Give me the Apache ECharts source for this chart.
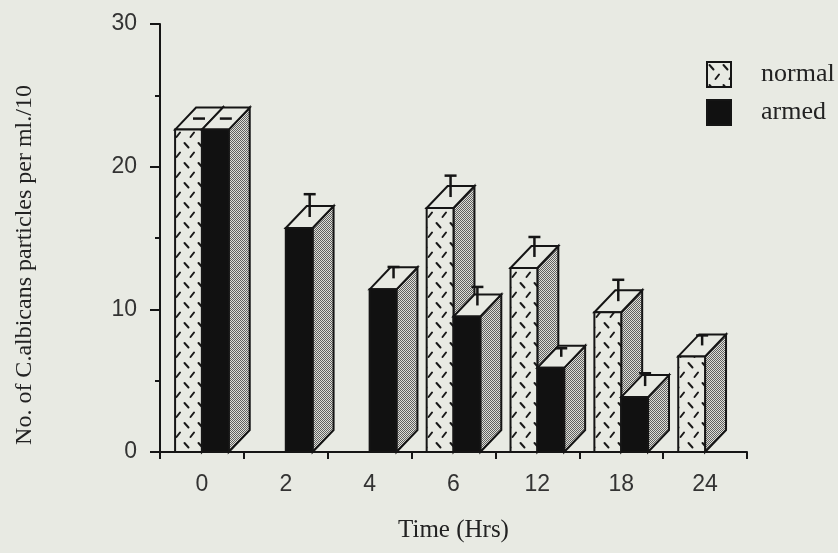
<!DOCTYPE html>
<html>
<head>
<meta charset="utf-8">
<script src="https://cdn.jsdelivr.net/npm/echarts@6/dist/echarts.min.js"></script>
<style>
html,body{margin:0;padding:0;background:#e8eae3;}
#chart{width:838px;height:553px;}
</style>
</head>
<body>
<div id="chart"></div>
<script>
// ---- data ----
const categories = ['0', '2', '4', '6', '12', '18', '24'];
const normalValues = [22.6, null, null, 17.1, 12.9, 9.8, 6.7];
const normalErrors = [0, null, null, 1.5, 1.4, 1.5, 0.7];
const armedValues = [22.6, 15.7, 11.4, 9.5, 5.9, 3.85, null];
const armedErrors = [0, 1.6, 0.8, 1.3, 0.6, 0.9, null];
const yTicks = [0, 10, 20, 30];

const BG = '#e8eae3';
const INK = '#151515';

// ---- fill patterns ----
function makeNormalPattern() {
  const c = document.createElement('canvas');
  c.width = 14; c.height = 20;
  const g = c.getContext('2d');
  g.fillStyle = BG; g.fillRect(0, 0, 14, 20);
  g.strokeStyle = '#1a1a1a'; g.lineWidth = 2; g.lineCap = 'round';
  g.beginPath(); g.moveTo(2.5, 3); g.lineTo(6.5, 7.5); g.stroke();
  g.beginPath(); g.moveTo(8.5, 17); g.lineTo(12, 12.5); g.stroke();
  return c;
}
function makeStipple() {
  const c = document.createElement('canvas');
  c.width = 2; c.height = 2;
  const g = c.getContext('2d');
  g.fillStyle = '#dedfd8'; g.fillRect(0, 0, 2, 2);
  g.fillStyle = '#606060'; g.fillRect(0, 0, 1, 1); g.fillRect(1, 1, 1, 1);
  return c;
}
const normalFill = { image: makeNormalPattern(), repeat: 'repeat' };
const sideFill = { image: makeStipple(), repeat: 'repeat' };

function toData(vals, errs) {
  return vals.map((v, i) => v == null ? [i, NaN, NaN] : [i, v, errs[i]]);
}

function barRenderer(isLeft, frontFill) {
  return function (params, api) {
    const i = api.value(0);
    const v = api.value(1);
    if (isNaN(v)) return;
    const err = api.value(2);
    const base = api.coord([i, 0]);
    const top = api.coord([i, v]);
    const cw = api.size([1, 0])[0];
    const bw = cw * 0.32;
    const dx = cw * 0.25;
    const dy = 22;
    const x0 = isLeft ? base[0] - bw : base[0];
    const x1 = x0 + bw;
    const yb = base[1];
    const yt = top[1];
    const stroke = { stroke: INK, lineWidth: 2, lineJoin: 'miter' };
    const children = [
      { type: 'polygon', shape: { points: [[x1, yb], [x1 + dx, yb - dy], [x1 + dx, yt - dy], [x1, yt]] },
        style: Object.assign({ fill: sideFill }, stroke) },
      { type: 'polygon', shape: { points: [[x0, yt], [x0 + dx, yt - dy], [x1 + dx, yt - dy], [x1, yt]] },
        style: Object.assign({ fill: BG }, stroke) },
      { type: 'rect', shape: { x: x0, y: yt, width: bw, height: yb - yt },
        style: Object.assign({ fill: frontFill }, stroke) }
    ];
    if (!isNaN(err)) {
      const cx = (x0 + x1) / 2 + dx / 2;
      const cy = yt - dy / 2;
      const ey = api.coord([i, v + err])[1] - dy / 2;
      children.push({ type: 'line', shape: { x1: cx, y1: cy, x2: cx, y2: ey },
        style: { stroke: INK, lineWidth: 2.5 } });
      children.push({ type: 'line', shape: { x1: cx - 6, y1: ey, x2: cx + 6, y2: ey },
        style: { stroke: INK, lineWidth: 2.5 } });
    }
    return { type: 'group', children: children };
  };
}

const chart = echarts.init(document.getElementById('chart'), null, { renderer: 'canvas' });
chart.setOption({
  backgroundColor: BG,
  animation: false,
  grid: { left: 160, right: 91, top: 24, bottom: 101, containLabel: false },
  legend: {
    orient: 'vertical', left: 701, top: 56, itemWidth: 24, itemHeight: 25, itemGap: 11,
    icon: 'rect',
    textStyle: { fontFamily: 'Liberation Serif', fontSize: 26, color: '#222', padding: [0, 0, 0, 25] },
    data: [
      { name: 'normal', itemStyle: { color: normalFill, borderColor: INK, borderWidth: 2 } },
      { name: 'armed', itemStyle: { color: '#111', borderColor: INK, borderWidth: 2 } }
    ]
  },
  xAxis: {
    type: 'category', data: categories, boundaryGap: true,
    name: 'Time (Hrs)', nameLocation: 'middle', nameGap: 66,
    nameTextStyle: { fontFamily: 'Liberation Serif', fontSize: 25, color: '#222' },
    axisLine: { lineStyle: { color: INK, width: 2 } },
    axisTick: { show: true, length: 7, alignWithLabel: false, lineStyle: { color: INK, width: 2 } },
    axisLabel: { margin: 21, fontFamily: 'Liberation Sans', fontSize: 23, color: '#333' },
    splitLine: { show: false }
  },
  yAxis: {
    type: 'value', min: 0, max: 30, interval: 10,
    axisLine: { show: true, lineStyle: { color: INK, width: 2 } },
    axisTick: { show: true, length: 10, lineStyle: { color: INK, width: 2 } },
    minorTick: { show: true, splitNumber: 2, length: 5, lineStyle: { color: INK, width: 2 } },
    axisLabel: { margin: 23, fontFamily: 'Liberation Sans', fontSize: 23, color: '#333',
      formatter: v => yTicks.indexOf(v) >= 0 ? String(v) : '' },
    splitLine: { show: false }
  },
  graphic: [{
    type: 'text', x: 25, y: 265, rotation: Math.PI / 2,
    style: { text: 'No. of C.albicans particles per ml./10', fontFamily: 'Liberation Serif',
      fontSize: 24, fill: '#222', align: 'center', verticalAlign: 'middle' }
  }],
  series: [
    { name: 'normal', type: 'custom', renderItem: barRenderer(true, normalFill),
      encode: { x: 0, y: 1 }, data: toData(normalValues, normalErrors),
      itemStyle: { color: normalFill }, z: 2 },
    { name: 'armed', type: 'custom', renderItem: barRenderer(false, '#111'),
      encode: { x: 0, y: 1 }, data: toData(armedValues, armedErrors),
      itemStyle: { color: '#111' }, z: 3 }
  ]
});
</script>
</body>
</html>
